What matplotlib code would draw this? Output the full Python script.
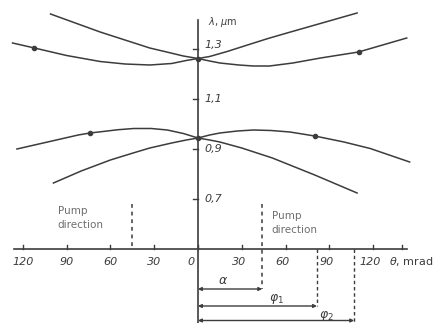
import matplotlib.pyplot as plt

# tuning curves: angle theta (mrad) vs wavelength lambda (um)
a_theta = [-101, -84, -67, -50, -33, -20, -10, 0, 8, 20, 35, 48, 61, 85, 109]
a_lam = [1.44, 1.404, 1.368, 1.336, 1.304, 1.286, 1.272, 1.262, 1.270, 1.290, 1.318, 1.342, 1.364, 1.404, 1.444]

b_theta = [-127, -112, -90, -67, -50, -33, -18, -8, 0, 8, 15, 28, 38, 49, 65, 84, 110, 143]
b_lam = [1.324, 1.304, 1.274, 1.250, 1.240, 1.236, 1.242, 1.254, 1.262, 1.252, 1.244, 1.236, 1.232, 1.232, 1.244, 1.264, 1.288, 1.344]

c_theta = [-124, -100, -82, -74, -65, -55, -44, -32, -21, -10, 0, 8, 15, 27, 38, 50, 63, 80, 100, 118, 145]
c_lam = [0.90, 0.932, 0.956, 0.964, 0.970, 0.977, 0.982, 0.982, 0.976, 0.962, 0.944, 0.956, 0.964, 0.972, 0.976, 0.974, 0.968, 0.952, 0.928, 0.902, 0.848]

d_theta = [-99, -80, -60, -45, -33, -18, -8, 0, 8, 15, 30, 51, 80, 109]
d_lam = [0.764, 0.812, 0.856, 0.883, 0.904, 0.924, 0.936, 0.944, 0.936, 0.928, 0.904, 0.864, 0.796, 0.724]

# marked points on the curves
dot_theta = [-112, 110, -74, 80, 0, 0]
dot_lam = [1.304, 1.288, 0.964, 0.952, 1.262, 0.944]

x_ticks = [-120, -90, -60, -30, 0, 30, 60, 90, 120, 140]
x_labels = ["120", "90", "60", "30", "0", "30", "60", "90", "120", ""]
y_ticks = [1.3, 1.1, 0.9, 0.7]
y_labels = ["1,3", "1,1", "0,9", "0,7"]

alpha_ang = 44
phi1 = 81.5
phi2 = 107

ink = "#3c3c3c"
fig = plt.figure(figsize=(4.4, 3.23), dpi=100)
ax = fig.add_axes([0, 0, 1, 1])
ax.set_xlim(-135.6, 165.8)
ax.set_ylim(0.204, 1.496)
ax.axis("off")

for th, lam in [(a_theta, a_lam), (b_theta, b_lam), (c_theta, c_lam), (d_theta, d_lam)]:
    ax.plot(th, lam, color=ink, lw=1.1)
ax.plot(dot_theta, dot_lam, "o", color=ink, ms=3)

# axes
y0 = 0.5
ax.plot([-126, 143], [y0, y0], color=ink, lw=1.2)
ax.plot([0, 0], [0.204, 1.416], color=ink, lw=1.2)
for t, lab in zip(x_ticks, x_labels):
    ax.plot([t, t], [y0, y0 + 0.016], color=ink, lw=1.0)
    off = -5 if t == 0 else (-2 if t > 0 else 0)
    ax.text(t + off, 0.448, lab, ha="center", va="center", fontsize=8,
            style="italic", color=ink)
ax.text(131, 0.452, r"$\theta$, mrad", ha="left", va="center", fontsize=8, color=ink)

for v, lab in zip(y_ticks, y_labels):
    ax.plot([-3.5, 0], [v, v], color=ink, lw=1.0)
    yy = v + 0.015 if v == 1.3 else v
    ax.text(4.5, yy, lab, ha="left", va="center", fontsize=8, style="italic", color=ink)
ax.text(7, 1.408, r"$\lambda$, $\mu$m", ha="left", va="center", fontsize=7, color=ink)

# pump direction markers
ax.plot([-45, -45], [0.68, y0], color=ink, lw=1.1, ls=(0, (2.5, 2.5)))
ax.plot([alpha_ang, alpha_ang], [0.68, 0.34], color=ink, lw=1.1, ls=(0, (2.5, 2.5)))
ax.text(-96, 0.626, "Pump\ndirection", ha="left", va="center", fontsize=7.5,
        color="#6e6e6e", linespacing=1.5)
ax.text(50.5, 0.606, "Pump\ndirection", ha="left", va="center", fontsize=7.5,
        color="#6e6e6e", linespacing=1.5)

# angle dimensions below the axis
ax.plot([phi1, phi1], [y0, 0.272], color=ink, lw=1.0, ls=(0, (2.5, 2)))
ax.plot([phi2, phi2], [y0, 0.204], color=ink, lw=1.0, ls=(0, (2.5, 2)))
for end, yy in [(alpha_ang, 0.34), (phi1, 0.272), (phi2, 0.214)]:
    ax.annotate("", xy=(end, yy), xytext=(0, yy),
                arrowprops=dict(arrowstyle="<|-|>", color=ink, lw=1.0,
                                mutation_scale=5, shrinkA=0, shrinkB=0))
ax.text(17, 0.376, r"$\alpha$", ha="center", va="center", fontsize=9, color=ink)
ax.text(54, 0.298, r"$\varphi_1$", ha="center", va="center", fontsize=9, color=ink)
ax.text(88, 0.232, r"$\varphi_2$", ha="center", va="center", fontsize=9, color=ink)

fig.savefig("out.png", dpi=100)
